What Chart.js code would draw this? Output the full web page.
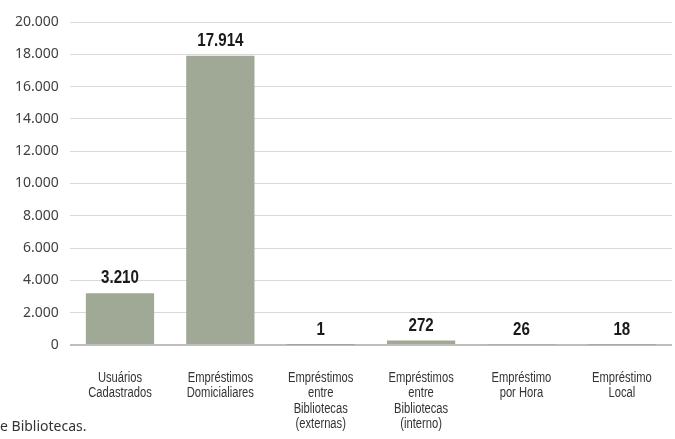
<!DOCTYPE html>
<html>
<head>
<meta charset="utf-8">
<script src="https://cdn.jsdelivr.net/npm/chart.js@4.4.1/dist/chart.umd.min.js"></script>
<style>
	html, body { margin: 0; padding: 0; background: #fff; }
	#wrap { position: relative; width: 675px; height: 439px; overflow: hidden; }
	#note { position: absolute; left: 0; top: 416px; font: 14px/19px "Noto Sans", sans-serif; color: #333; white-space: nowrap; }
</style>
</head>
<body>
<div id="wrap">
	<canvas id="barChart" width="675" height="439"></canvas>
	<div id="note">e Bibliotecas.</div>
</div>
<script>
const categories = [
	[ 'Usuários', 'Cadastrados' ],
	[ 'Empréstimos', 'Domicialiares' ],
	[ 'Empréstimos', 'entre', 'Bibliotecas', '(externas)' ],
	[ 'Empréstimos', 'entre', 'Bibliotecas', '(interno)' ],
	[ 'Empréstimo', 'por Hora' ],
	[ 'Empréstimo', 'Local' ]
];
const values = [ 3210, 17914, 1, 272, 26, 18 ];
const yTicks = [ 0, 2000, 4000, 6000, 8000, 10000, 12000, 14000, 16000, 18000, 20000 ];

function fmt(n) {
	return String(n).replace(/\B(?=(\d{3})+(?!\d))/g, '.');
}

// narrow text: no condensed face installed, so squeeze it
function narrowText(ctx, text, x, y, sx) {
	ctx.save();
	ctx.translate(x, y);
	ctx.scale(sx, 1);
	ctx.fillText(text, 0, 0);
	ctx.restore();
}

// value labels above bars + category labels under the axis
const labelsPlugin = {
	id: 'labelsPlugin',
	afterDatasetsDraw(chart) {
		const ctx = chart.ctx;
		const meta = chart.getDatasetMeta(0);
		const xScale = chart.scales.x;
		ctx.save();
		ctx.textAlign = 'center';

		ctx.font = 'bold 18px "Liberation Sans", sans-serif';
		ctx.fillStyle = '#1a1a1a';
		ctx.textBaseline = 'alphabetic';
		meta.data.forEach((bar, i) => {
			narrowText(ctx, fmt(values[i]), bar.x, bar.y - 10, 0.84);
		});

		ctx.font = '14px "Liberation Sans", sans-serif';
		ctx.fillStyle = '#333';
		ctx.textBaseline = 'middle';
		categories.forEach((lines, i) => {
			const x = xScale.getPixelForTick(i);
			lines.forEach((line, j) => {
				narrowText(ctx, line, x, chart.chartArea.bottom + 33 + j * 15.5, 0.8);
			});
		});
		ctx.restore();
	}
};

const ctx1 = document.getElementById('barChart').getContext('2d');

const barChart = new Chart(ctx1, {
	type: 'bar',
	data: {
		labels: categories,
		datasets: [
			{
				data: values,
				backgroundColor: '#a0a896',
				barPercentage: 0.68,
				categoryPercentage: 1
			}
		]
	},
	options: {
		responsive: false,
		animation: false,
		layout: {
			padding: { left: 4, right: 3, top: 22, bottom: 0 }
		},
		plugins: {
			legend: { display: false },
			tooltip: { enabled: false }
		},
		scales: {
			x: {
				grid: { display: false, drawTicks: false },
				border: { display: false },
				ticks: { display: false },
				afterFit(scale) {
					scale.height = 94;
					scale.paddingLeft = 0;
					scale.paddingRight = 0;
				}
			},
			y: {
				min: 0,
				max: 20000,
				afterBuildTicks(scale) {
					scale.ticks = yTicks.map(v => ({ value: v }));
				},
				grid: {
					drawTicks: false,
					color: c => (c.tick && c.tick.value === 0 ? '#bdbdbd' : '#d9d9d9'),
					lineWidth: c => (c.tick && c.tick.value === 0 ? 2 : 1)
				},
				border: { display: false },
				ticks: {
					padding: 11,
					color: '#404040',
					font: { family: '"Noto Sans", sans-serif', size: 14 },
					callback: v => fmt(v)
				}
			}
		}
	},
	plugins: [ labelsPlugin ]
});
</script>
</body>
</html>
